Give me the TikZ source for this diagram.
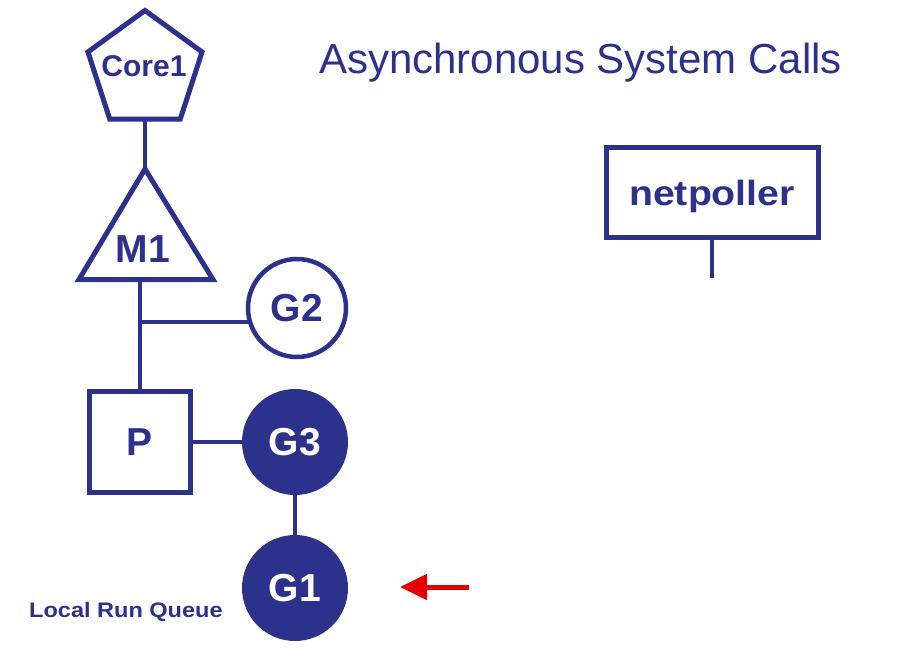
\documentclass[tikz,border=0pt]{standalone}
\usepackage{fontspec}
\setmainfont{Liberation Sans}
\newfontfamily\lblfont{Liberation Sans Bold}
\newfontfamily\widefont[FakeStretch=1.12]{Liberation Sans Bold}
\usetikzlibrary{shapes.geometric,arrows.meta}
\definecolor{navy}{RGB}{44,49,139}
\definecolor{arrred}{RGB}{228,0,0}
\begin{document}
\begin{tikzpicture}[x=1pt,y=-1pt,
  shp/.style={draw=navy,line width=5pt,inner sep=0pt,outer sep=0pt},
  conn/.style={draw=navy,line width=4pt},
  gopen/.style={shp,circle,line width=4.5pt,minimum size=98pt,text=navy,font=\lblfont\fontsize{39}{39}\selectfont},
  gfull/.style={circle,fill=navy,inner sep=0pt,outer sep=0pt,minimum size=106pt,text=white,font=\lblfont\fontsize{39}{39}\selectfont},
  redarrow/.style={draw=arrred,line width=5pt,-{Triangle[length=27pt,width=25pt]}}
]
\useasboundingbox[fill=white] (0,0) rectangle (906,672);

% title
\node[anchor=base west,inner sep=0pt,text=navy,font=\fontsize{42}{42}\selectfont] (title) at (319,73) {Asynchronous System Calls};

% Core1 pentagon
\node[shp,regular polygon,regular polygon sides=5,minimum size=120pt] (core) at (145,70.5) {};
\node[inner sep=0pt,text=navy,font=\lblfont\fontsize{30}{30}\selectfont] (corelbl) at (144,66) {Core1};

% M1 triangle
\coordinate (tritop) at (145,169);
\coordinate (tribl) at (79,279.5);
\coordinate (tribr) at (213,279.5);
\draw[shp] (tritop) -- (tribl) -- (tribr) -- cycle;
\node[inner sep=0pt,text=navy,font=\lblfont\fontsize{39}{39}\selectfont] (m1) at (143,249) {M1};
\coordinate (m1b) at (140,279.5);

% P square
\node[shp,rectangle,minimum width=101pt,minimum height=101pt,text=navy,font=\lblfont\fontsize{39}{39}\selectfont] (P) at (140,442) {P};

% goroutines
\node[gopen] (G2) at (297,308) {G2};
\node[gfull] (G3) at (295,442) {G3};
\node[gfull] (G1) at (295,588) {G1};

\node[anchor=base west,inner sep=0pt,text=navy,font=\widefont\fontsize{21}{21}\selectfont] (lrq) at (29,617) {Local Run Queue};

% netpoller
\node[shp,rectangle,minimum width=212pt,minimum height=90pt,text=navy,text depth=0pt,font=\widefont\fontsize{35}{35}\selectfont] (np) at (712,192.5) {netpoller};
\coordinate (npend) at (712,278);

% connectors
\draw[conn] (core.south) -- (tritop);
\draw[conn] (m1b) -- (P.north);
\draw[conn] (m1b |- G2.196) -- (G2.196);
\draw[conn] (P.east) -- (G3.west);
\draw[conn] (G3.south) -- (G1.north);
\draw[conn] (np.south) -- (npend);

% red arrow
\coordinate (arrstart) at (469,587);
\coordinate (arrtip) at (400,587);
\draw[redarrow] (arrstart) -- (arrtip);
\end{tikzpicture}
\end{document}
